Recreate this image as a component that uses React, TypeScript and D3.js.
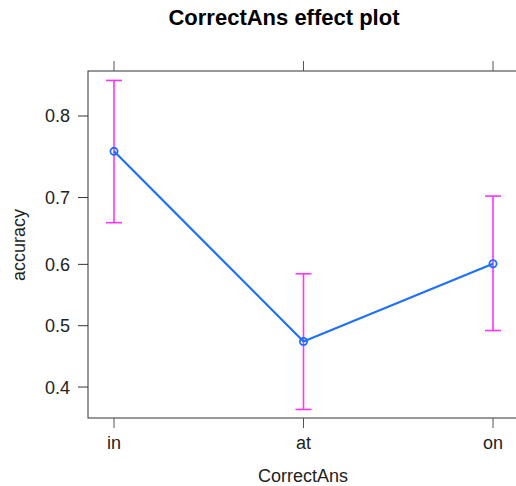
import React from "react";
import * as d3 from "d3";

const categories = ["in", "at", "on"];
const fitValues = [0.76, 0.474, 0.601];
const lowerValues = [0.664, 0.365, 0.492];
const upperValues = [0.835, 0.585, 0.702];
const yTicks = [0.4, 0.5, 0.6, 0.7, 0.8];

const width = 516;
const height = 486;
const panel = { left: 88, top: 71, right: 519, bottom: 418 };
const font = "Liberation Sans, Arial, Helvetica, sans-serif";

const logit = (p: number) => Math.log(p / (1 - p));

const App = () => {
  const x = d3
    .scalePoint<string>()
    .domain(categories)
    .range([114, 493]);

  // effect plots use the logit scale on the response axis
  const yLogit = d3
    .scaleLinear()
    .domain([logit(0.5), logit(0.8)])
    .range([325.7, 116]);
  const y = (p: number) => yLogit(logit(p));

  const pts = categories.map((c, i) => ({
    cat: c,
    fit: fitValues[i],
    lo: lowerValues[i],
    hi: upperValues[i],
  }));

  const line = d3
    .line<(typeof pts)[number]>()
    .x((d) => x(d.cat) as number)
    .y((d) => y(d.fit));

  const capHalf = 8;

  return (
    <div style={{ position: "fixed", left: 0, top: 0 }}>
      <svg width={width} height={height} style={{ display: "block" }}>
        <rect width={width} height={height} fill="white" />
        <text
          x={284}
          y={25}
          textAnchor="middle"
          fontFamily={font}
          fontSize={22}
          fontWeight="bold"
        >
          CorrectAns effect plot
        </text>

        {/* panel box */}
        <rect
          x={panel.left}
          y={panel.top}
          width={panel.right - panel.left}
          height={panel.bottom - panel.top}
          fill="none"
          stroke="#333"
          strokeWidth={1}
        />

        {/* y axis */}
        {yTicks.map((t) => (
          <g key={t}>
            <line
              x1={panel.left - 10}
              x2={panel.left}
              y1={y(t)}
              y2={y(t)}
              stroke="#333"
            />
            <text
              x={70}
              y={y(t)}
              dy="0.36em"
              textAnchor="end"
              fontFamily={font}
              fontSize={18}
              fill="#222"
            >
              {t.toFixed(1)}
            </text>
          </g>
        ))}

        {/* x axis, ticks top and bottom */}
        {categories.map((c) => (
          <g key={c}>
            <line
              x1={x(c)}
              x2={x(c)}
              y1={panel.bottom}
              y2={panel.bottom + 10}
              stroke="#555"
            />
            <line
              x1={x(c)}
              x2={x(c)}
              y1={panel.top - 10}
              y2={panel.top}
              stroke="#555"
            />
            <text
              x={x(c)}
              y={449}
              textAnchor="middle"
              fontFamily={font}
              fontSize={18}
              fill="#222"
            >
              {c}
            </text>
          </g>
        ))}

        <text
          x={303}
          y={482}
          textAnchor="middle"
          fontFamily={font}
          fontSize={18}
          fill="#222"
        >
          CorrectAns
        </text>
        <text
          transform={`translate(25,245) rotate(-90)`}
          textAnchor="middle"
          fontFamily={font}
          fontSize={18}
          fill="#222"
        >
          accuracy
        </text>

        {/* confidence intervals */}
        {pts.map((d) => {
          const cx = x(d.cat) as number;
          return (
            <g key={d.cat} stroke="#ff33ff" strokeWidth={1.6}>
              <line x1={cx} x2={cx} y1={y(d.lo)} y2={y(d.hi)} />
              <line x1={cx - capHalf} x2={cx + capHalf} y1={y(d.hi)} y2={y(d.hi)} />
              <line x1={cx - capHalf} x2={cx + capHalf} y1={y(d.lo)} y2={y(d.lo)} />
            </g>
          );
        })}

        <path d={line(pts) ?? ""} fill="none" stroke="#1f6fff" strokeWidth={2.2} />
        {pts.map((d) => (
          <circle
            key={d.cat}
            cx={x(d.cat) as number}
            cy={y(d.fit)}
            r={3.6}
            fill="none"
            stroke="#1f6fff"
            strokeWidth={1.8}
          />
        ))}
      </svg>
    </div>
  );
};

export default App;
